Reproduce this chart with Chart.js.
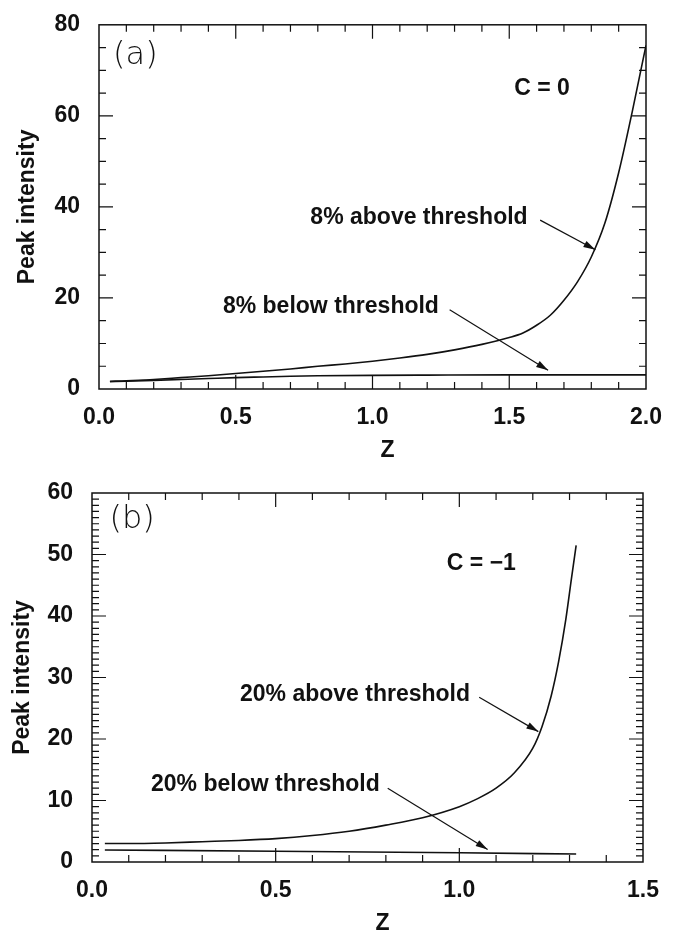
<!DOCTYPE html>
<html>
<head>
<meta charset="utf-8">
<title>Peak intensity vs Z</title>
<script src="https://cdn.jsdelivr.net/npm/chart.js@4.4.0/dist/chart.umd.min.js"></script>
<style>
  html, body { margin: 0; padding: 0; background: #fff; }
  #wrap { position: relative; width: 679px; height: 930px; }
  .panel { position: absolute; left: 0; width: 679px; height: 465px; }
  #panelA { top: 0; }
  #panelB { top: 465px; }
</style>
</head>
<body>
<div id="wrap">
  <div class="panel" id="panelA"><canvas id="chartA"></canvas></div>
  <div class="panel" id="panelB"><canvas id="chartB"></canvas></div>
</div>
<script>
  // ---- panel (a), C = 0 ----
  const zAboveA    = [0.04, 0.1, 0.2, 0.3, 0.4, 0.5, 0.6, 0.7, 0.8, 0.9, 1.0, 1.1, 1.2, 1.3, 1.4, 1.5, 1.55, 1.6, 1.65, 1.7, 1.75, 1.8, 1.85, 1.9, 1.95, 2.0];
  const peakAboveA = [1.7, 1.8, 2.1, 2.5, 2.9, 3.4, 3.9, 4.4, 5.0, 5.5, 6.1, 6.8, 7.6, 8.6, 9.8, 11.3, 12.3, 14.0, 16.2, 19.5, 23.6, 29.0, 36.5, 47.5, 61.0, 75.5];
  const zBelowA    = [0.04, 0.1, 0.2, 0.3, 0.4, 0.5, 0.6, 0.7, 0.8, 1.0, 1.2, 1.5, 2.0];
  const peakBelowA = [1.6, 1.7, 1.9, 2.1, 2.3, 2.5, 2.65, 2.8, 2.9, 3.0, 3.05, 3.1, 3.1];
  const xTicksA = [0, 0.5, 1.0, 1.5, 2.0];
  const yTicksA = [0, 20, 40, 60, 80];

  // ---- panel (b), C = -1 ----
  const zAboveB    = [0.035, 0.1, 0.2, 0.3, 0.4, 0.5, 0.6, 0.7, 0.8, 0.9, 1.0, 1.05, 1.1, 1.15, 1.2, 1.225, 1.25, 1.27, 1.29, 1.305, 1.318];
  const peakAboveB = [3.0, 3.0, 3.1, 3.3, 3.5, 3.8, 4.3, 5.0, 6.0, 7.2, 9.0, 10.3, 12.0, 14.5, 18.5, 22.0, 27.0, 32.5, 39.5, 46.0, 51.5];
  const zBelowB    = [0.035, 0.5, 1.0, 1.318];
  const peakBelowB = [1.95, 1.75, 1.5, 1.3];
  const xTicksB = [0, 0.5, 1.0, 1.5];
  const yTicksB = [0, 10, 20, 30, 40, 50, 60];

  // annotations, in data coordinates
  const notesA = [
    { text: '(a)', z: 0.133, y: 73.3, light: true },
    { text: 'C = 0', z: 1.62, y: 65.9 },
    { text: '8% above threshold', z: 1.17, y: 37.7 },
    { text: '8% below threshold', z: 0.848, y: 18.1 }
  ];
  const arrowsA = [
    { from: [1.613, 37.1], to: [1.815, 30.6] },
    { from: [1.282, 17.4], to: [1.642, 4.1] }
  ];
  const notesB = [
    { text: '(b)', z: 0.109, y: 55.7, light: true },
    { text: 'C = \u22121', z: 1.06, y: 48.5 },
    { text: '20% above threshold', z: 0.716, y: 27.2 },
    { text: '20% below threshold', z: 0.472, y: 12.6 }
  ];
  const arrowsB = [
    { from: [1.054, 26.8], to: [1.215, 21.2] },
    { from: [0.805, 12.0], to: [1.077, 2.05] }
  ];

  const FONT = '"Liberation Sans", Arial, Helvetica, sans-serif';

  function toPoints(xs, ys) {
    return xs.map((x, i) => ({ x: x, y: ys[i] }));
  }

  // frame, inward ticks, axis titles and annotations
  const framePlugin = {
    id: 'frame',
    afterDatasetsDraw(chart, args, o) {
      const { ctx, chartArea: a, scales: { x, y } } = chart;
      ctx.save();
      ctx.strokeStyle = '#111';
      ctx.fillStyle = '#111';
      ctx.lineWidth = 1.5;
      ctx.strokeRect(a.left, a.top, a.right - a.left, a.bottom - a.top);

      ctx.lineWidth = 1.2;
      const isMajor = (v, step) => Math.abs(v / step - Math.round(v / step)) < 1e-6;
      let n = Math.round((x.max - x.min) / o.xMinor);
      for (let i = 1; i < n; i++) {
        const v = x.min + i * o.xMinor;
        const px = x.getPixelForValue(v);
        const len = isMajor(v, o.xMajor) ? 14 : 7;
        ctx.beginPath();
        ctx.moveTo(px, a.bottom); ctx.lineTo(px, a.bottom - len);
        ctx.moveTo(px, a.top); ctx.lineTo(px, a.top + len);
        ctx.stroke();
      }
      n = Math.round((y.max - y.min) / o.yMinor);
      for (let i = 1; i < n; i++) {
        const v = y.min + i * o.yMinor;
        const py = y.getPixelForValue(v);
        const len = isMajor(v, o.yMajor) ? 14 : 7;
        ctx.beginPath();
        ctx.moveTo(a.left, py); ctx.lineTo(a.left + len, py);
        ctx.moveTo(a.right, py); ctx.lineTo(a.right - len, py);
        ctx.stroke();
      }

      // axis titles
      ctx.textAlign = 'center';
      ctx.textBaseline = 'middle';
      ctx.font = 'bold 23px ' + FONT;
      ctx.fillText('Z', (a.left + a.right) / 2 + 15, a.bottom + 62);
      ctx.save();
      ctx.translate(o.yTitleX, (a.top + a.bottom) / 2);
      ctx.rotate(-Math.PI / 2);
      ctx.fillText('Peak intensity', 0, 0);
      ctx.restore();

      // labels
      o.notes.forEach(nt => {
        ctx.font = nt.light ? '200 32px "DejaVu Sans", sans-serif' : 'bold 23px ' + FONT;
        ctx.fillText(nt.text, x.getPixelForValue(nt.z), y.getPixelForValue(nt.y));
      });

      // arrows
      ctx.lineWidth = 1.2;
      o.arrows.forEach(ar => {
        const x1 = x.getPixelForValue(ar.from[0]), y1 = y.getPixelForValue(ar.from[1]);
        const x2 = x.getPixelForValue(ar.to[0]), y2 = y.getPixelForValue(ar.to[1]);
        const ang = Math.atan2(y2 - y1, x2 - x1);
        ctx.beginPath();
        ctx.moveTo(x1, y1); ctx.lineTo(x2, y2);
        ctx.stroke();
        ctx.beginPath();
        ctx.moveTo(x2, y2);
        ctx.lineTo(x2 - 12 * Math.cos(ang) + 3.5 * Math.sin(ang), y2 - 12 * Math.sin(ang) - 3.5 * Math.cos(ang));
        ctx.lineTo(x2 - 12 * Math.cos(ang) - 3.5 * Math.sin(ang), y2 - 12 * Math.sin(ang) + 3.5 * Math.cos(ang));
        ctx.closePath();
        ctx.fill();
      });
      ctx.restore();
    }
  };

  function makePanel(canvasId, cfg) {
    const line = {
      showLine: true,
      pointRadius: 0,
      borderColor: '#111',
      borderWidth: 1.6,
      cubicInterpolationMode: 'monotone',
      fill: false
    };
    return new Chart(document.getElementById(canvasId), {
      type: 'scatter',
      data: {
        datasets: [
          Object.assign({ label: 'above threshold', data: toPoints(cfg.zAbove, cfg.peakAbove) }, line),
          Object.assign({ label: 'below threshold', data: toPoints(cfg.zBelow, cfg.peakBelow) }, line)
        ]
      },
      options: {
        responsive: true,
        maintainAspectRatio: false,
        animation: false,
        layout: { padding: { top: cfg.padTop, right: cfg.padRight, left: 0, bottom: 0 } },
        plugins: {
          legend: { display: false },
          tooltip: { enabled: false },
          frame: {
            xMinor: 0.1, xMajor: 0.5,
            yMinor: cfg.yMinor, yMajor: cfg.yMajor,
            yTitleX: cfg.yTitleX,
            notes: cfg.notes, arrows: cfg.arrows
          }
        },
        scales: {
          x: {
            type: 'linear',
            min: 0, max: cfg.xTicks[cfg.xTicks.length - 1],
            grid: { display: false },
            border: { display: false },
            afterBuildTicks: s => { s.ticks = cfg.xTicks.map(v => ({ value: v })); },
            afterFit: s => { s.height = cfg.xHeight; },
            ticks: {
              color: '#111',
              padding: 7,
              maxRotation: 0,
              font: { family: FONT, size: 23, weight: 'bold' },
              callback: v => v.toFixed(1)
            }
          },
          y: {
            type: 'linear',
            min: 0, max: cfg.yTicks[cfg.yTicks.length - 1],
            grid: { display: false },
            border: { display: false },
            afterBuildTicks: s => { s.ticks = cfg.yTicks.map(v => ({ value: v })); },
            afterFit: s => { s.width = cfg.yWidth; },
            ticks: {
              color: '#111',
              padding: 11,
              font: { family: FONT, size: 23, weight: 'bold' },
              callback: v => String(v)
            }
          }
        }
      },
      plugins: [framePlugin]
    });
  }

  makePanel('chartA', {
    zAbove: zAboveA, peakAbove: peakAboveA, zBelow: zBelowA, peakBelow: peakBelowA,
    xTicks: xTicksA, yTicks: yTicksA, yMinor: 5, yMajor: 20,
    padTop: 18, padRight: 33, yWidth: 99, xHeight: 76, yTitleX: 28,
    notes: notesA, arrows: arrowsA
  });

  makePanel('chartB', {
    zAbove: zAboveB, peakAbove: peakAboveB, zBelow: zBelowB, peakBelow: peakBelowB,
    xTicks: xTicksB, yTicks: yTicksB, yMinor: 1, yMajor: 10,
    padTop: 28, padRight: 36, yWidth: 92, xHeight: 68, yTitleX: 23,
    notes: notesB, arrows: arrowsB
  });
</script>
</body>
</html>
